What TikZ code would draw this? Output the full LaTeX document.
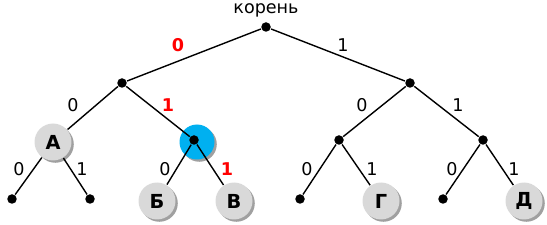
\documentclass[tikz,border=0pt]{standalone}
\usepackage{fontspec}
\setmainfont{DejaVu Sans}
\usetikzlibrary{shadows}

\definecolor{leafgray}{RGB}{217,217,217}
\definecolor{shadowgray}{RGB}{150,150,150}
\definecolor{markblue}{RGB}{0,176,240}

\begin{document}
\begin{tikzpicture}[x=0.02cm, y=-0.02cm, thick,
    dot/.style={circle, fill=black, inner sep=0pt, minimum size=0.19cm},
    letter/.style={circle, fill=leafgray, inner sep=0pt, minimum size=0.74cm,
      font=\fontsize{11}{12}\selectfont\bfseries,
      drop shadow={shadow xshift=1.3pt, shadow yshift=-1.3pt, fill=shadowgray, opacity=0.9}},
    bit/.style={font=\fontsize{10}{11}\selectfont},
    redbit/.style={bit, red, font=\fontsize{10}{11}\selectfont\bfseries}]

  \useasboundingbox (0,0) rectangle (547,225);

  % root and top label
  \node[dot] (root) at (266,27) {};
  \node[bit] (rootlbl) at (266,10) {корень};

  % highlighted spot under the node 01
  \node[circle, fill=markblue, inner sep=0pt, minimum size=0.70cm,
    drop shadow={shadow xshift=1.3pt, shadow yshift=-1.3pt, fill=shadowgray, opacity=0.9}]
    (spot) at (197,142) {};

  % inner nodes
  \node[dot] (n0) at (122,83) {};
  \node[dot] (n1) at (410,83) {};
  \node[letter] (A) at (53,142) {А};
  \node[dot] (n01) at (194,140) {};
  \node[dot] (n10) at (339,140) {};
  \node[dot] (n11) at (483,140) {};

  % leaves
  \node[dot] (n000) at (12,199) {};
  \node[dot] (n001) at (90,199) {};
  \node[letter] (B) at (157,201) {Б};
  \node[letter] (V) at (234,201) {В};
  \node[dot] (n100) at (300,199) {};
  \node[letter] (G) at (381,201) {Г};
  \node[dot] (n110) at (443,199) {};
  \node[letter] (D) at (524,201) {Д};

  % edges
  \foreach \a/\b in {root/n0, root/n1, n0/A, n0/n01, n1/n10, n1/n11,
      A/n000, A/n001, n01/B, n01/V, n10/n100, n10/G, n11/n110, n11/D}
    \draw (\a) -- (\b);

  % bits on the edges
  \node[redbit] (e0) at (178,45) {0};
  \node[bit] (e1) at (343,45) {1};
  \node[bit] (e00) at (73,105) {0};
  \node[redbit] (e01) at (168,105) {1};
  \node[bit] (e10) at (362,105) {0};
  \node[bit] (e11) at (458,105) {1};
  \node[bit] (e000) at (19,169) {0};
  \node[bit] (e001) at (82,169) {1};
  \node[bit] (e010) at (165,169) {0};
  \node[redbit] (e011) at (227,169) {1};
  \node[bit] (e100) at (307,169) {0};
  \node[bit] (e101) at (372,169) {1};
  \node[bit] (e110) at (452,169) {0};
  \node[bit] (e111) at (514,169) {1};

\end{tikzpicture}
\end{document}
